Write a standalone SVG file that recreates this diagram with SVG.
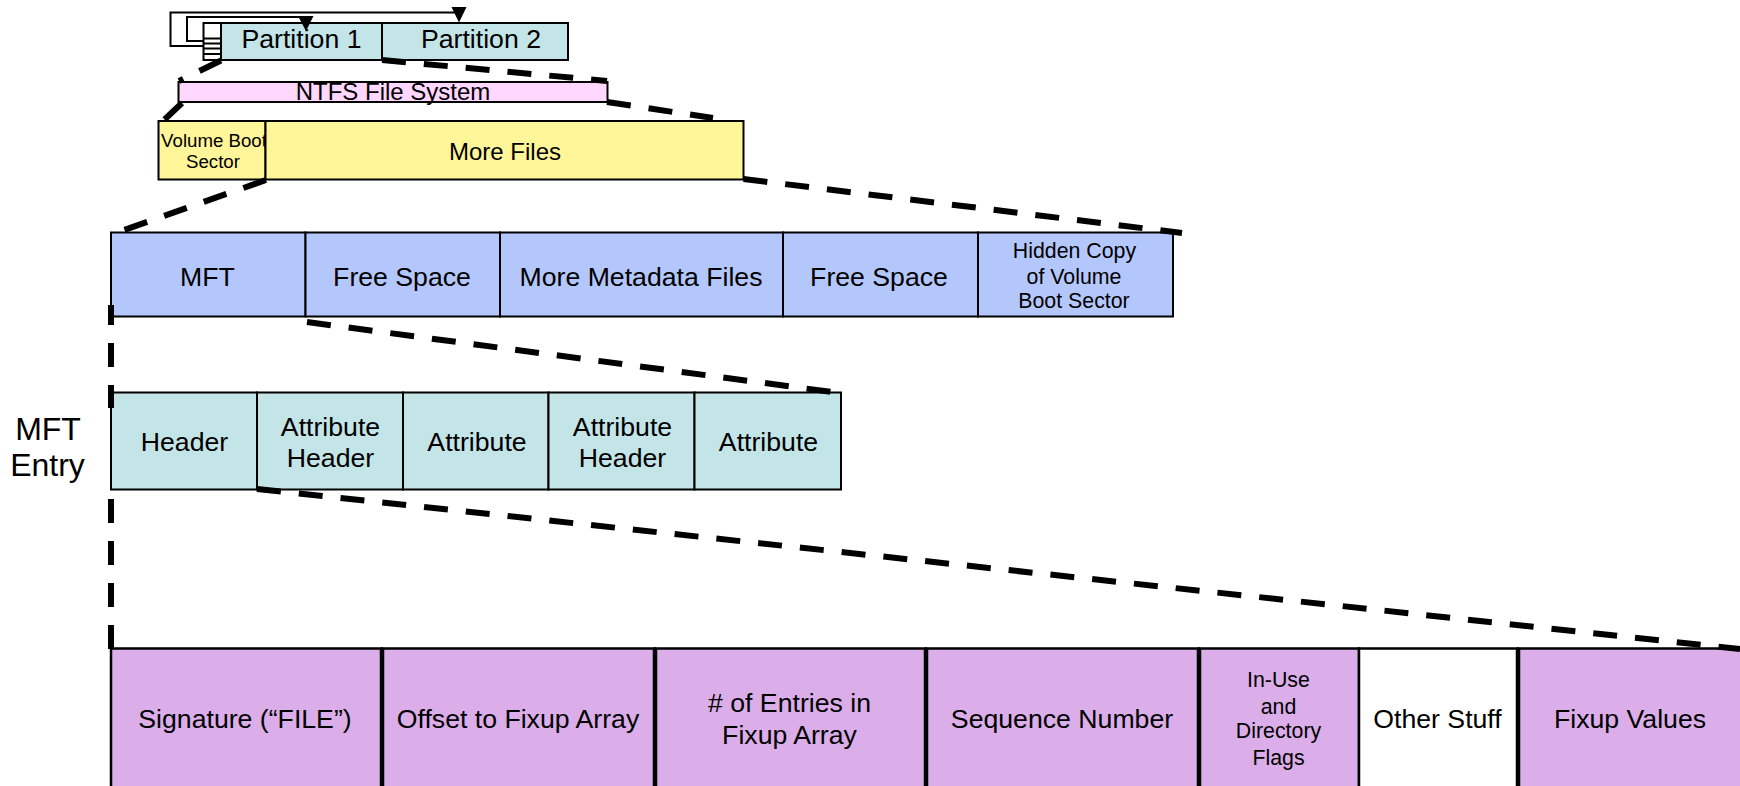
<svg xmlns="http://www.w3.org/2000/svg" width="1740" height="786" viewBox="0 0 1740 786">
<style>
text{font-family:"Liberation Sans",Arial,sans-serif;fill:#000;text-anchor:middle}
.b{stroke:#000;stroke-width:2}
.p{stroke:#000;stroke-width:2.500;fill:#dbaeea}
.v{stroke:#000;stroke-width:4.500;fill:none}
.t{fill:#c3e5e8}.y{fill:#fff599}.bl{fill:#b4c7fd}
.s27{font-size:26.67px}.s21{font-size:21.33px}.s19{font-size:18.67px}.s24{font-size:24px}.s32{font-size:32px}
.d{stroke:#000;stroke-width:6;stroke-dasharray:24 18;fill:none}
.w{stroke:#000;stroke-width:2;fill:none}
</style>
<rect width="1740" height="786" fill="#fff"/>
<g id="partition-table">
<rect x="203.500" y="23" width="17.500" height="37" fill="#fff" class="b"/>
<path d="M204 38.500H221M204 43.500H221M204 48.500H221M204 54H221" class="w" stroke-width="1.500"/>
</g>
<g id="partition-1"><rect x="221" y="23" width="161" height="37" class="b t"/><text x="301.500" y="48" class="s27">Partition 1</text></g>
<g id="partition-2"><rect x="382" y="23" width="186" height="37" class="b t"/><text x="481" y="48" class="s27">Partition 2</text></g>
<g id="ntfs"><rect x="178.500" y="82" width="429" height="20" class="b" fill="#ffd7ff"/><text x="393" y="100" class="s24">NTFS File System</text></g>
<g id="volume-boot-sector"><rect x="158.500" y="121" width="107" height="58.500" class="b y"/><text x="214" y="147" class="s19">Volume Boot</text><text x="213" y="168" class="s19">Sector</text></g>
<g id="more-files"><rect x="265.500" y="121" width="478" height="58.500" class="b y"/><text x="505" y="160" class="s24">More Files</text></g>
<g id="mft"><rect x="111" y="232.500" width="194.500" height="84" class="b bl"/><text x="207.500" y="286" class="s27">MFT</text></g>
<g id="free-space-1"><rect x="305.500" y="232.500" width="194.500" height="84" class="b bl"/><text x="402" y="286" class="s27">Free Space</text></g>
<g id="more-metadata"><rect x="500" y="232.500" width="283" height="84" class="b bl"/><text x="641" y="286" class="s27">More Metadata Files</text></g>
<g id="free-space-2"><rect x="783" y="232.500" width="195" height="84" class="b bl"/><text x="879" y="286" class="s27">Free Space</text></g>
<g id="hidden-copy"><rect x="978" y="232.500" width="195" height="84" class="b bl"/><text x="1074.500" y="258" class="s21">Hidden Copy</text><text x="1074" y="284" class="s21">of Volume</text><text x="1074" y="307.500" class="s21">Boot Sector</text></g>
<g id="mft-entry-label"><text x="48" y="440" class="s32">MFT</text><text x="47.500" y="476" class="s32">Entry</text></g>
<g id="header"><rect x="111" y="392.500" width="146" height="97" class="b t"/><text x="184.500" y="451" class="s27">Header</text></g>
<g id="attr-header-1"><rect x="257" y="392.500" width="146" height="97" class="b t"/><text x="330.500" y="436" class="s27">Attribute</text><text x="330.500" y="467" class="s27">Header</text></g>
<g id="attr-1"><rect x="403" y="392.500" width="145.500" height="97" class="b t"/><text x="477" y="451" class="s27">Attribute</text></g>
<g id="attr-header-2"><rect x="548.500" y="392.500" width="146" height="97" class="b t"/><text x="622.500" y="436" class="s27">Attribute</text><text x="622.500" y="467" class="s27">Header</text></g>
<g id="attr-2"><rect x="694.500" y="392.500" width="146.500" height="97" class="b t"/><text x="768.500" y="451" class="s27">Attribute</text></g>
<g id="signature"><rect x="111" y="648.500" width="271" height="160" class="p"/><text x="245" y="728" class="s27">Signature (“FILE”)</text></g>
<g id="offset"><rect x="382" y="648.500" width="273" height="160" class="p"/><path d="M382 648V790" class="v"/><text x="518" y="728" class="s27">Offset to Fixup Array</text></g>
<g id="entries"><rect x="655" y="648.500" width="271" height="160" class="p"/><path d="M655 648V790" class="v"/><text x="789.500" y="712" class="s27"># of Entries in</text><text x="789.500" y="744" class="s27">Fixup Array</text></g>
<g id="sequence"><rect x="926" y="648.500" width="273" height="160" class="p"/><path d="M926 648V790" class="v"/><text x="1062" y="728" class="s27">Sequence Number</text></g>
<g id="flags"><rect x="1199" y="648.500" width="160" height="160" class="p"/><path d="M1199 648V790" class="v"/><text x="1278.500" y="687" class="s21">In-Use</text><text x="1278.500" y="714" class="s21">and</text><text x="1278.500" y="738" class="s21">Directory</text><text x="1278.500" y="765" class="s21">Flags</text></g>
<g id="other"><rect x="1359" y="648.500" width="159" height="160" class="p" style="fill:#fff"/><text x="1437.500" y="728" class="s27">Other Stuff</text></g>
<g id="fixup"><rect x="1518" y="648.500" width="240" height="160" class="p"/><path d="M1518 648V790" class="v"/><text x="1630" y="728" class="s27">Fixup Values</text></g>
<g id="connectors">
<path d="M203 46H170.500V12.500H458M203 41H187V17H306" class="w"/>
<path d="M451.500 7H466.500L459 22.500ZM298 16H313.500L306 31Z"/>
<path d="M221 60.500L179 81" class="d"/>
<path d="M382 60L607 81" class="d"/>
<path d="M182 103L164 120" class="d"/>
<path d="M607 102L713 118" class="d"/>
<path d="M266 180L124 230" class="d"/>
<path d="M743.500 179L1182 233" class="d"/>
<path d="M111 305V408" class="d" stroke-dashoffset="4"/>
<path d="M307 322L832 392" class="d"/>
<path d="M257 489L1740 649" class="d"/>
<path d="M111 499V649" class="d"/>
</g>
</svg>
